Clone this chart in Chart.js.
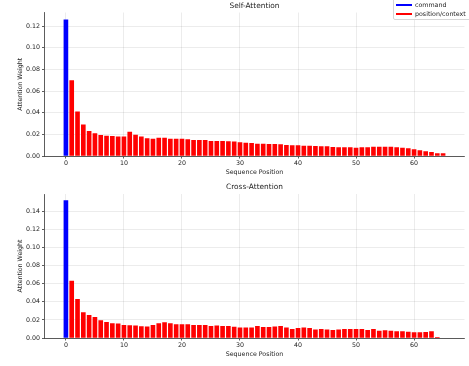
<!DOCTYPE html>
<html><head><meta charset="utf-8">
<script src="https://cdn.jsdelivr.net/npm/chart.js@4/dist/chart.umd.min.js"></script>
<style>
html,body{margin:0;padding:0;background:#fff;width:469px;height:366px;overflow:hidden;position:relative;}
.wrap{position:absolute;left:0;width:469px;height:183px;}
#legend{position:absolute;left:393px;top:-4px;width:90px;height:22px;border:1px solid #d6d6d6;border-radius:2px;background:rgba(255,255,255,0.85);font-family:"DejaVu Sans";font-size:6.3px;color:#222;}
#legend .ln{position:absolute;left:2px;width:15.5px;height:2px;}
#legend .tx{position:absolute;left:21px;line-height:8px;white-space:nowrap;}
</style></head>
<body>
<div class="wrap" style="top:0"><canvas id="c1" width="469" height="183"></canvas></div>
<div class="wrap" style="top:183px"><canvas id="c2" width="469" height="183"></canvas></div>
<div id="legend">
  <div class="ln" style="top:7px;background:#0000ff"></div><div class="tx" style="top:3.5px">command</div>
  <div class="ln" style="top:16.3px;background:#ff0000"></div><div class="tx" style="top:12.8px">position/context</div>
</div>
<script>
// Sequence positions (categories)
const positions = [0,1,2,3,4,5,6,7,8,9,10,11,12,13,14,15,16,17,18,19,20,21,22,23,24,25,26,27,28,29,30,31,32,33,34,35,36,37,38,39,40,41,42,43,44,45,46,47,48,49,50,51,52,53,54,55,56,57,58,59,60,61,62,63,64,65];
const seriesNames = ['command', 'position/context'];
const xTicks = [0,10,20,30,40,50,60];

// Self-Attention
const selfCommand = [0.126];
const selfContext = [0.070,0.041,0.029,0.023,0.021,0.0194,0.0188,0.0185,0.0179,0.0179,
  0.0225,0.0197,0.0179,0.0163,0.0160,0.0169,0.0169,0.0160,0.0160,0.0160,
  0.0154,0.0148,0.0148,0.0148,0.0139,0.0139,0.0139,0.0136,0.0134,0.0126,
  0.0123,0.0120,0.0114,0.0114,0.0111,0.0111,0.0108,0.0102,0.0099,0.0099,
  0.0095,0.0095,0.0092,0.0089,0.0089,0.0083,0.0080,0.0080,0.0080,0.0077,
  0.0080,0.0080,0.0086,0.0086,0.0086,0.0086,0.0080,0.0077,0.0071,0.0062,
  0.0052,0.0043,0.0037,0.0025,0.0025];
const selfYTicks = [0,0.02,0.04,0.06,0.08,0.10,0.12];

// Cross-Attention
const crossCommand = [0.152];
const crossContext = [0.0633,0.0430,0.0285,0.0255,0.0233,0.0196,0.0178,0.0163,0.0159,0.0144,
  0.0141,0.0137,0.0130,0.0126,0.0144,0.0163,0.0174,0.0163,0.0152,0.0152,
  0.0152,0.0144,0.0144,0.0144,0.0133,0.0137,0.0133,0.0133,0.0124,0.0115,
  0.0115,0.0115,0.0133,0.0122,0.0122,0.0126,0.0133,0.0115,0.0100,0.0111,
  0.0115,0.0111,0.0093,0.0100,0.0093,0.0089,0.0093,0.0100,0.0100,0.0100,
  0.0100,0.0089,0.0100,0.0081,0.0085,0.0081,0.0074,0.0074,0.0070,0.0063,
  0.0063,0.0067,0.0074,0.0010,0.0];
const crossYTicks = [0,0.02,0.04,0.06,0.08,0.10,0.12,0.14];

const FONT = 'DejaVu Sans';
const TXT = '#222';

// Title centred over the plot area (as in the reference)
const areaTitle = {
  id: 'areaTitle',
  afterDraw(chart, args, o) {
    const {ctx, chartArea} = chart;
    ctx.save();
    ctx.font = '7.4px "' + FONT + '"';
    ctx.fillStyle = TXT;
    ctx.textAlign = 'center';
    ctx.textBaseline = 'middle';
    ctx.fillText(o.text, (chartArea.left + chartArea.right) / 2, o.y);
    ctx.restore();
  }
};

function makeChart(id, title, cmd, ctxVals, yMax, yTicks, opt) {
  const cmdPts = cmd.map((v, i) => ({x: positions[i], y: v}));
  const ctxPts = ctxVals.map((v, i) => ({x: positions[i + 1], y: v}));
  return new Chart(document.getElementById(id), {
    type: 'bar',
    data: {
      datasets: [
        {label: seriesNames[0], data: cmdPts, backgroundColor: '#0000ff', borderWidth: 0, grouped: false,
         barPercentage: 1, categoryPercentage: 0.8},
        {label: seriesNames[1], data: ctxPts, backgroundColor: '#ff0000', borderWidth: 0, grouped: false,
         barPercentage: 1, categoryPercentage: 0.8}
      ]
    },
    plugins: [areaTitle],
    options: {
      responsive: false, animation: false, devicePixelRatio: 1,
      layout: {padding: {left: 0, right: 4.5, top: opt.top, bottom: 0}},
      plugins: {
        legend: {display: false},
        tooltip: {enabled: false},
        title: {display: false},
        areaTitle: {text: title, y: opt.titleY}
      },
      scales: {
        x: {
          type: 'linear', min: -3.69, max: 68.69, offset: false,
          afterFit: s => { s.height = opt.xHeight; },
          afterBuildTicks: s => { s.ticks = xTicks.map(v => ({value: v})); },
          ticks: {color: TXT, font: {family: FONT, size: 6.3}, padding: 1.3, maxRotation: 0,
            callback: v => String(v)},
          grid: {offset: false, color: 'rgba(0,0,0,0.13)', lineWidth: 0.6, borderDash: [1.5, 1.5],
            tickColor: '#333', tickLength: 2.5, tickWidth: 0.8, tickBorderDash: []},
          border: {display: true, color: '#333', width: 0.8},
          title: {display: true, text: 'Sequence Position', color: TXT,
            font: {family: FONT, size: 6.3, lineHeight: 1.2}, padding: {top: 0, bottom: opt.xTitleBottom}}
        },
        y: {
          type: 'linear', min: 0, max: yMax,
          afterFit: s => { s.width = 44.5; },
          afterBuildTicks: s => { s.ticks = yTicks.map(v => ({value: v})); },
          ticks: {color: TXT, font: {family: FONT, size: 6.3}, padding: 2,
            callback: v => Number(v).toFixed(2)},
          grid: {color: 'rgba(0,0,0,0.13)', lineWidth: 0.6, borderDash: [1.5, 1.5],
            tickColor: '#333', tickLength: 2.5, tickWidth: 0.8, tickBorderDash: []},
          border: {display: true, color: '#333', width: 0.8},
          title: {display: true, text: 'Attention Weight', color: TXT,
            font: {family: FONT, size: 6.3, lineHeight: 1.2}, padding: {top: 16.2, bottom: 0}}
        }
      }
    }
  });
}

makeChart('c1', 'Self-Attention', selfCommand, selfContext, 0.1325, selfYTicks,
  {top: 12.5, titleY: 5.8, xHeight: 27, xTitleBottom: 6.5});
makeChart('c2', 'Cross-Attention', crossCommand, crossContext, 0.159, crossYTicks,
  {top: 11, titleY: 3.9, xHeight: 28, xTitleBottom: 8.2});
</script>
</body></html>
